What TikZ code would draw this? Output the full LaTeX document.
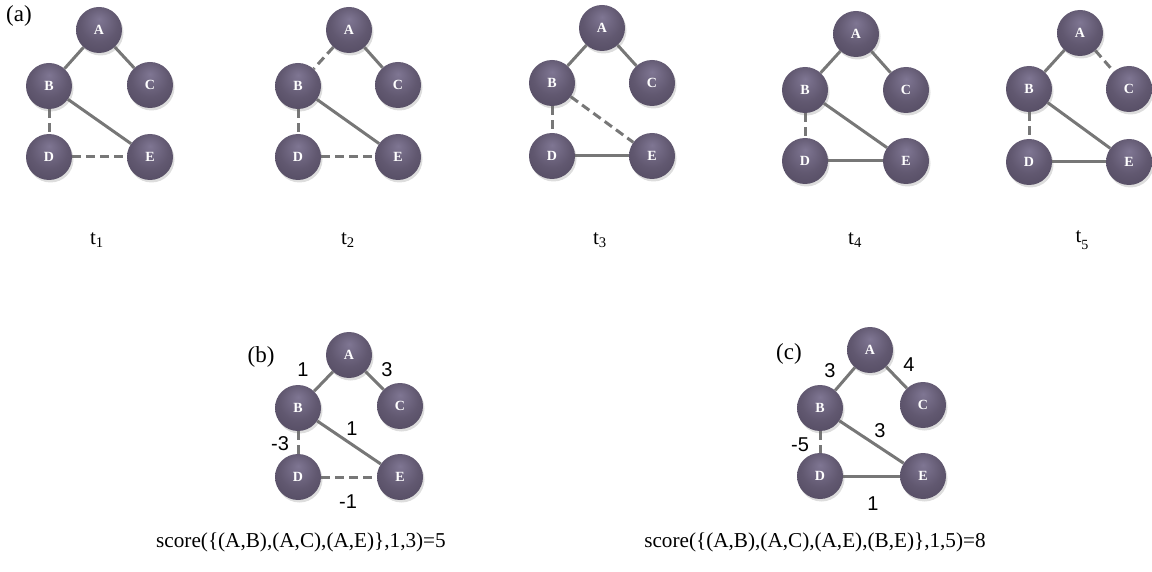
\documentclass[tikz,border=0pt]{standalone}
\usepackage{fontspec}
\setmainfont{Liberation Serif}
\newfontfamily\wfont{Liberation Sans}
\usetikzlibrary{shadows}
\definecolor{edgec}{HTML}{777777}
\definecolor{ballhi}{HTML}{7F7693}
\definecolor{ballmid}{HTML}{615870}
\definecolor{balldark}{HTML}{4B4359}
\definecolor{balledge}{HTML}{3F384A}
\pgfdeclareradialshading{nodeball}{\pgfpoint{0bp}{12bp}}{color(0bp)=(ballhi); color(20bp)=(ballmid); color(44bp)=(balldark); color(50bp)=(balledge)}
\pgfdeclarelayer{bg}
\pgfsetlayers{bg,main}
\begin{document}
\begin{tikzpicture}[x=1pt,y=-1pt,
  ball/.style={circle, minimum size=46pt, inner sep=0pt, shading=nodeball,
    drop shadow={opacity=0.22, shadow xshift=1.5pt, shadow yshift=-2.5pt, fill=black!60},
    text=white, font=\bfseries\fontsize{14}{14}\selectfont},
  e/.style={draw=edgec, line width=3pt},
  de/.style={e, dash pattern=on 9pt off 5pt},
  lab/.style={font=\fontsize{23}{23}\selectfont},
  tlab/.style={font=\fontsize{21}{21}\selectfont},
  wt/.style={font=\wfont\fontsize{20}{20}\selectfont},
  score/.style={font=\fontsize{21.2}{21.2}\selectfont}]
\useasboundingbox (0,0) rectangle (1152,572);
% graph t1
\node[ball] (1A) at (99,30) {A};
\node[ball] (1B) at (49,86) {B};
\node[ball] (1C) at (150,85) {C};
\node[ball] (1D) at (49,157) {D};
\node[ball] (1E) at (150,157) {E};
% graph t2
\node[ball] (2A) at (349,30) {A};
\node[ball] (2B) at (298,86) {B};
\node[ball] (2C) at (398,85) {C};
\node[ball] (2D) at (298,157) {D};
\node[ball] (2E) at (398,157) {E};
% graph t3
\node[ball] (3A) at (602,28) {A};
\node[ball] (3B) at (552,83) {B};
\node[ball] (3C) at (652,83) {C};
\node[ball] (3D) at (552,156) {D};
\node[ball] (3E) at (652,156) {E};
% graph t4
\node[ball] (4A) at (856,34) {A};
\node[ball] (4B) at (805,90) {B};
\node[ball] (4C) at (906,90) {C};
\node[ball] (4D) at (805,161) {D};
\node[ball] (4E) at (906,161) {E};
% graph t5
\node[ball] (5A) at (1080,33) {A};
\node[ball] (5B) at (1029,89) {B};
\node[ball] (5C) at (1129,89) {C};
\node[ball] (5D) at (1029,162) {D};
\node[ball] (5E) at (1129,162) {E};
% graph b
\node[ball] (bA) at (349,355) {A};
\node[ball] (bB) at (298,408) {B};
\node[ball] (bC) at (400,406) {C};
\node[ball] (bD) at (298,477) {D};
\node[ball] (bE) at (400,477) {E};
% graph c
\node[ball] (cA) at (870,350) {A};
\node[ball] (cB) at (820,408) {B};
\node[ball] (cC) at (923,405) {C};
\node[ball] (cD) at (820,476) {D};
\node[ball] (cE) at (923,476) {E};
\begin{pgfonlayer}{bg}
  % t1
  \draw[e] (1A) -- (1B); \draw[e] (1A) -- (1C); \draw[e] (1B) -- (1E);
  \draw[de] (1B) -- (1D); \draw[de] (1D) -- (1E);
  % t2
  \draw[de] (2A) -- (2B); \draw[e] (2A) -- (2C); \draw[e] (2B) -- (2E);
  \draw[de] (2B) -- (2D); \draw[de] (2D) -- (2E);
  % t3
  \draw[e] (3A) -- (3B); \draw[e] (3A) -- (3C); \draw[de] (3B) -- (3E);
  \draw[de] (3B) -- (3D); \draw[e] (3D) -- (3E);
  % t4
  \draw[e] (4A) -- (4B); \draw[e] (4A) -- (4C); \draw[e] (4B) -- (4E);
  \draw[de] (4B) -- (4D); \draw[e] (4D) -- (4E);
  % t5
  \draw[e] (5A) -- (5B); \draw[de] (5A) -- (5C); \draw[e] (5B) -- (5E);
  \draw[de] (5B) -- (5D); \draw[e] (5D) -- (5E);
  % b
  \draw[e] (bA) -- (bB); \draw[e] (bA) -- (bC); \draw[e] (bB) -- (bE);
  \draw[de] (bB) -- (bD); \draw[de] (bD) -- (bE);
  % c
  \draw[e] (cA) -- (cB); \draw[e] (cA) -- (cC); \draw[e] (cB) -- (cE);
  \draw[de] (cB) -- (cD); \draw[e] (cD) -- (cE);
\end{pgfonlayer}
% labels
\node[lab] (la) at (19,16) {(a)};
\node[tlab] (t1) at (97,240) {t\textsubscript{1}};
\node[tlab] (t2) at (348,240) {t\textsubscript{2}};
\node[tlab] (t3) at (600,240) {t\textsubscript{3}};
\node[tlab] (t4) at (855,240) {t\textsubscript{4}};
\node[tlab] (t5) at (1082,240) {t\raisebox{-7pt}{\fontsize{14}{14}\selectfont 5}};
\node[lab] (lb) at (261,357) {(b)};
\node[lab] (lc) at (789,354) {(c)};
% weights b
\node[wt] (wb1) at (303,370) {1};
\node[wt] (wb2) at (387,370) {3};
\node[wt] (wb3) at (352,429) {1};
\node[wt] (wb4) at (280,444) {-3};
\node[wt] (wb5) at (348,502) {-1};
% weights c
\node[wt] (wc1) at (830,371) {3};
\node[wt] (wc2) at (909,365) {4};
\node[wt] (wc3) at (880,431) {3};
\node[wt] (wc4) at (800,445) {-5};
\node[wt] (wc5) at (873,504) {1};
% scores
\node[score] (sb) at (301,542) {score(\{(A,B),(A,C),(A,E)\},1,3)=5};
\node[score] (sc) at (815,542) {score(\{(A,B),(A,C),(A,E),(B,E)\},1,5)=8};
\end{tikzpicture}
\end{document}
